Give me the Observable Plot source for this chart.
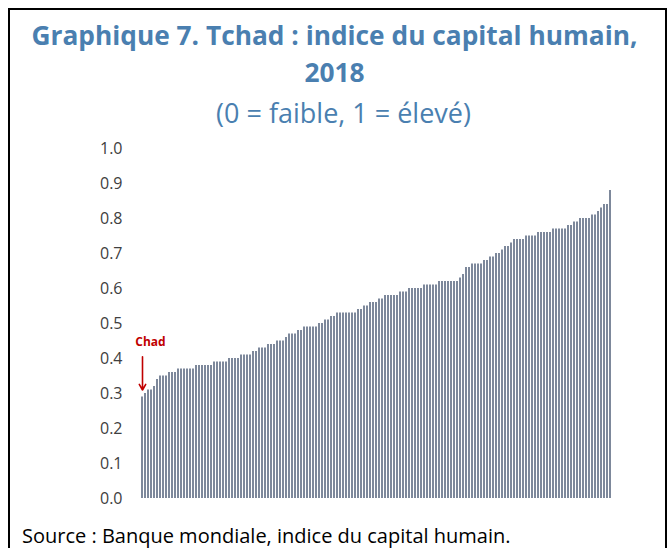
<!DOCTYPE html>
<html>
<head>
<meta charset="utf-8">
<script src="https://cdn.jsdelivr.net/npm/d3@7"></script>
<script src="https://cdn.jsdelivr.net/npm/@observablehq/plot@0.6"></script>
<style>
  html, body { margin: 0; padding: 0; background: #fff; width: 669px; height: 548px; overflow: hidden; }
  #frame { position: absolute; left: 8px; top: 8px; width: 655px; height: 560px; border-left: 2px solid #000; border-top: 2px solid #000; border-right: 2px solid #000; }
  #title { position: absolute; left: 0; top: 17px; width: 669px; text-align: center; font-family: "Open Sans", sans-serif; font-weight: 700; font-size: 26.3px; line-height: 37px; color: #4a7fb0; white-space: nowrap; }
  #subtitle { position: absolute; left: 9px; top: 95px; width: 669px; text-align: center; font-family: "Open Sans", sans-serif; font-weight: 400; font-size: 27px; line-height: 36px; color: #4a7fb0; }
  #chart { position: absolute; left: 0; top: 130px; }
  #source { position: absolute; left: 22px; top: 522px; font-family: "Open Sans", sans-serif; font-size: 20px; line-height: 28px; color: #000; white-space: nowrap; }
</style>
</head>
<body>
<div id="frame"></div>
<div id="title">Graphique 7. Tchad : indice du capital humain,<br>2018</div>
<div id="subtitle">(0 = faible, 1 = élevé)</div>
<div id="chart"></div>
<div id="source">Source : Banque mondiale, indice du capital humain.</div>
<script>
// Human capital index 2018, countries sorted ascending (Chad first)
const hciValues = [
  0.29, 0.30, 0.31, 0.31, 0.32, 0.34, 0.35, 0.35, 0.35, 0.36,
  0.36, 0.36, 0.37, 0.37, 0.37, 0.37, 0.37, 0.37, 0.38, 0.38,
  0.38, 0.38, 0.38, 0.38, 0.39, 0.39, 0.39, 0.39, 0.39, 0.40,
  0.40, 0.40, 0.40, 0.41, 0.41, 0.41, 0.41, 0.42, 0.42, 0.43,
  0.43, 0.43, 0.44, 0.44, 0.44, 0.45, 0.45, 0.45, 0.46, 0.47,
  0.47, 0.47, 0.48, 0.48, 0.49, 0.49, 0.49, 0.49, 0.49, 0.50,
  0.50, 0.51, 0.51, 0.52, 0.52, 0.53, 0.53, 0.53, 0.53, 0.53,
  0.53, 0.53, 0.54, 0.54, 0.55, 0.55, 0.56, 0.56, 0.56, 0.57,
  0.57, 0.58, 0.58, 0.58, 0.58, 0.58, 0.59, 0.59, 0.59, 0.60,
  0.60, 0.60, 0.60, 0.60, 0.61, 0.61, 0.61, 0.61, 0.61, 0.62,
  0.62, 0.62, 0.62, 0.62, 0.62, 0.62, 0.63, 0.64, 0.66, 0.66,
  0.67, 0.67, 0.67, 0.67, 0.68, 0.68, 0.69, 0.69, 0.70, 0.70,
  0.71, 0.72, 0.72, 0.73, 0.74, 0.74, 0.74, 0.74, 0.75, 0.75,
  0.75, 0.75, 0.76, 0.76, 0.76, 0.76, 0.76, 0.77, 0.77, 0.77,
  0.77, 0.77, 0.78, 0.78, 0.79, 0.79, 0.80, 0.80, 0.80, 0.80,
  0.81, 0.81, 0.82, 0.83, 0.84, 0.84, 0.88
];
const yTicks = [0, 0.1, 0.2, 0.3, 0.4, 0.5, 0.6, 0.7, 0.8, 0.9, 1.0];
const highlightLabel = ["Chad"];
const highlightIndex = [0];

const bars = hciValues.map((v, i) => ({rank: i, value: v}));
const note = highlightIndex.map((idx, k) => ({rank: idx, value: hciValues[idx], label: highlightLabel[k]}));

const chart = Plot.plot({
  width: 669,
  height: 390,
  marginLeft: 139,
  marginRight: 57,
  marginTop: 18,
  marginBottom: 22,
  style: {fontFamily: "'Open Sans', sans-serif", fontSize: "16px", color: "#404040", background: "transparent"},
  x: {type: "band", domain: bars.map(d => d.rank), padding: 0.5, axis: null},
  y: {domain: [0, 1], ticks: yTicks, tickFormat: d3.format(".1f"), tickSize: 0, tickPadding: 17, label: null},
  marks: [
    Plot.barY(bars, {x: "rank", y: "value", fill: "#7d889b"}),
    Plot.arrow(note, {
      x1: "rank", x2: "rank",
      y1: d => d.value + 0.115, y2: d => d.value + 0.02,
      stroke: "#c00000", strokeWidth: 1.6, headLength: 6
    }),
    Plot.text(note, {x: "rank", y: "value", text: "label", dy: -55, dx: 8, fill: "#c00000", fontWeight: "bold", fontSize: 12})
  ]
});
document.getElementById("chart").appendChild(chart);
</script>
</body>
</html>
